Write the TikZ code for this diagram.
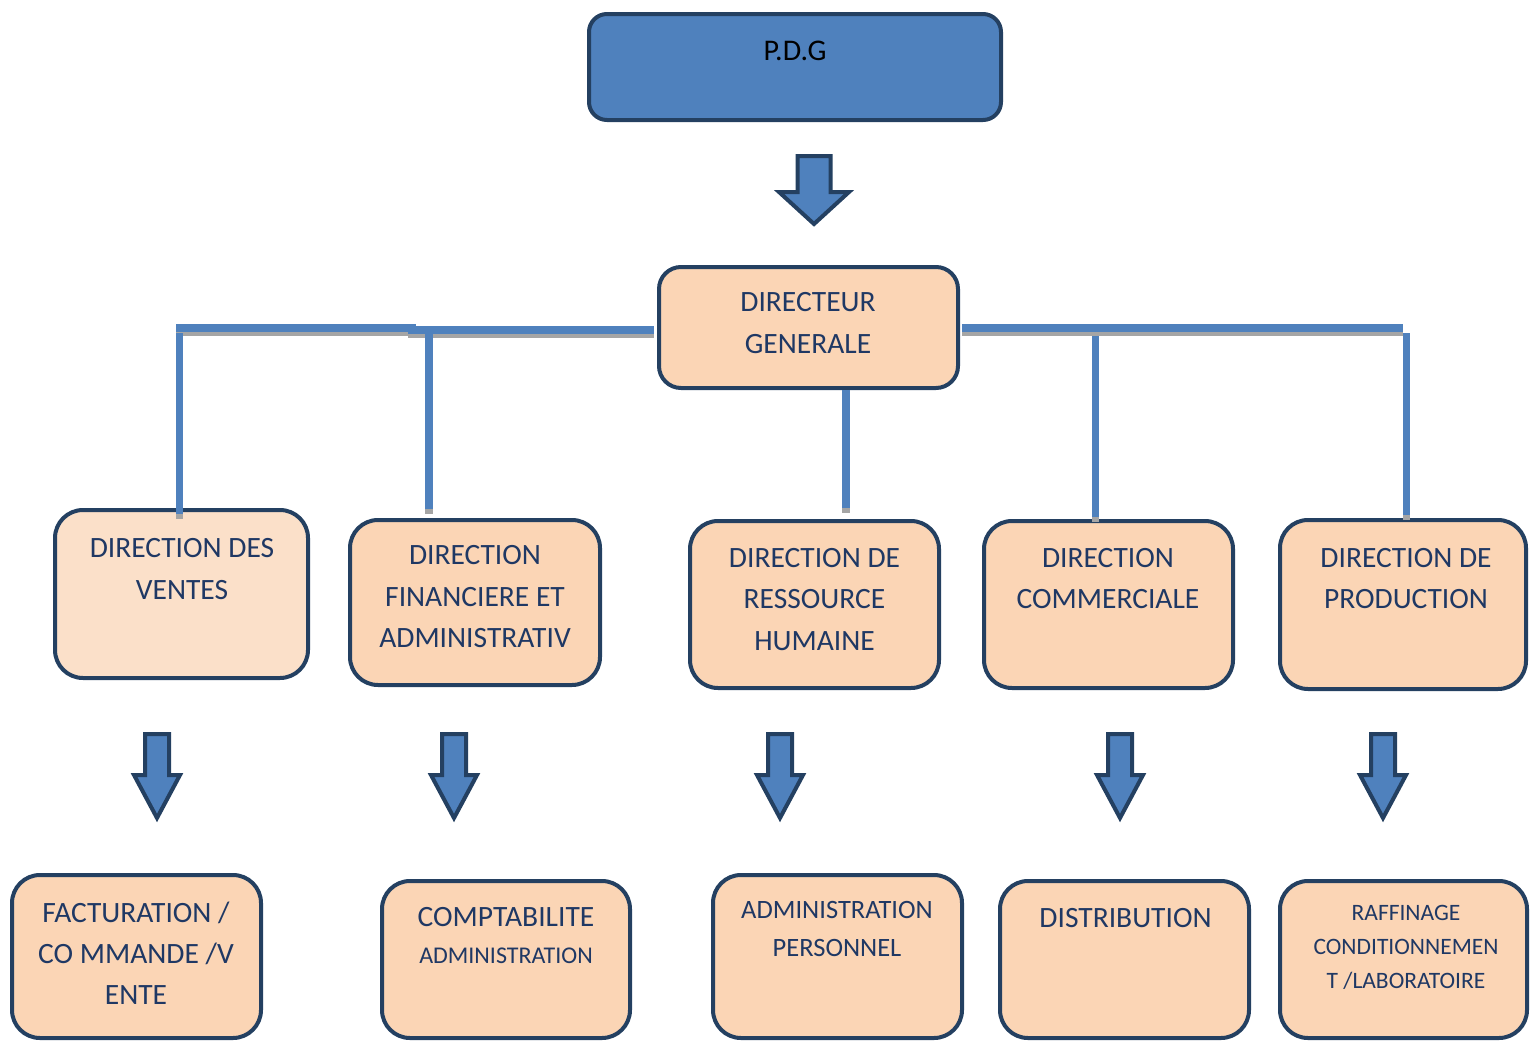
\documentclass[tikz,border=0pt]{standalone}
\usepackage{fontspec}
\setmainfont{Carlito}

\definecolor{pdgblue}{RGB}{79,129,189}
\definecolor{navy}{RGB}{36,64,97}
\definecolor{peach}{RGB}{251,213,181}
\definecolor{lightpeach}{RGB}{251,224,201}
\definecolor{txtnavy}{RGB}{31,56,100}
\definecolor{shadowgray}{RGB}{165,165,165}

\tikzset{
  unitbox/.style={draw=navy, line width=4pt, rounded corners=28pt, fill=peach, inner sep=0pt},
  boxtext/.style={text=txtnavy, align=center, inner sep=0pt, font=\fontsize{29.5}{41.5}\selectfont},
  blockarrow/.style={draw=navy, line width=4pt, fill=pdgblue, line join=miter},
  link/.style={draw=pdgblue, line width=7.5pt},
  linkshadow/.style={draw=shadowgray, line width=7.5pt},
}

% x, top, neck, tip, shaft half width, head half width
\newcommand{\bigarrow}[6]{%
  \draw[blockarrow] ({#1-#5},#2) -- ({#1+#5},#2) -- ({#1+#5},#3) -- ({#1+#6},#3)
    -- (#1,#4) -- ({#1-#6},#3) -- ({#1-#5},#3) -- cycle;}
\newcommand{\connect}[2]{%
  \draw[linkshadow] ([yshift=-4.5pt]#1) -- ([yshift=-4.5pt]#2);
  \draw[link] (#1) -- (#2);}

\begin{document}
\begin{tikzpicture}[x=1pt, y=-1pt]
    \useasboundingbox (0,0) rectangle (1531,1044);

    % top
    \node[unitbox, fill=pdgblue, rounded corners=18pt, minimum width=412pt, minimum height=106pt] (pdg) at (795,67) {};
    \node[boxtext, text=black, font=\fontsize{30}{34}\selectfont] (pdg-t) at (795,51) {P.D.G};
    \bigarrow{814}{156}{192}{224}{16.5}{35}

    \node[unitbox, rounded corners=22pt, minimum width=299pt, minimum height=121pt] (dg) at (808.5,327.5) {};
    \node[boxtext] (dg-t) at (808,323) {DIRECTEUR\\GENERALE};

    % directions
    \node[unitbox, fill=lightpeach, minimum width=253pt, minimum height=168pt] (ventes) at (181.5,594) {};
    \node[unitbox, minimum width=250pt, minimum height=165pt] (finance) at (475,602.5) {};
    \node[unitbox, minimum width=249pt, minimum height=167pt] (rh) at (814.5,604.5) {};
    \node[unitbox, minimum width=249pt, minimum height=167pt] (commerce) at (1108.5,604.5) {};
    \node[unitbox, minimum width=246pt, minimum height=169pt] (production) at (1403,604.5) {};

    \node[boxtext] (ventes-t) at (182,569) {DIRECTION DES\\VENTES};
    \node[boxtext] (finance-t) at (475,597) {DIRECTION\\FINANCIERE ET\\ADMINISTRATIV};
    \node[boxtext] (rh-t) at (814.5,599.5) {DIRECTION DE\\RESSOURCE\\HUMAINE};
    \node[boxtext] (commerce-t) at (1108,578.5) {DIRECTION\\COMMERCIALE};
    \node[boxtext] (production-t) at (1406,578.5) {DIRECTION DE\\PRODUCTION};

    % connectors
    \coordinate (bar-l) at (176,328);
    \coordinate (bar-lm) at (416,328);
    \coordinate (bar-m) at (408,330);
    \coordinate (bar-dg) at (654,330);
    \coordinate (bar-r) at (962,328);
    \coordinate (bar-rr) at (1403,328);
    \coordinate (v1-top) at (179.5,333);
    \coordinate (v1-bot) at (179.5,514);
    \coordinate (v2-top) at (429,334);
    \coordinate (v2-bot) at (429,509);
    \coordinate (v3-bot) at (846,508);
    \coordinate (v4-top) at (1095.5,336);
    \coordinate (v4-bot) at (1095.5,517);
    \coordinate (v5-top) at (1406.5,333);
    \coordinate (v5-bot) at (1406.5,515);

    \connect{bar-l}{bar-lm}
    \connect{bar-m}{bar-dg}
    \connect{bar-r}{bar-rr}
    \connect{v1-top}{v1-bot}
    \connect{v2-top}{v2-bot}
    \connect{dg.south -| v3-bot}{v3-bot}
    \connect{v4-top}{v4-bot}
    \connect{v5-top}{v5-bot}

    % arrows
    \bigarrow{157}{734}{775}{818}{12}{23}
    \bigarrow{454}{734}{775}{818}{12}{23}
    \bigarrow{780}{734}{775}{818}{12}{23}
    \bigarrow{1120}{734}{775}{818}{12}{23}
    \bigarrow{1383}{734}{775}{818}{12}{23}

    % services
    \node[unitbox, minimum width=249pt, minimum height=163pt] (factu) at (136.5,956.5) {};
    \node[unitbox, minimum width=248pt, minimum height=157pt] (compta) at (506,959.5) {};
    \node[unitbox, minimum width=249pt, minimum height=163pt] (admin) at (837.5,956.5) {};
    \node[unitbox, minimum width=249pt, minimum height=157pt] (distrib) at (1124.5,959.5) {};
    \node[unitbox, minimum width=247pt, minimum height=157pt] (raffin) at (1403.5,959.5) {};

    \node[boxtext, font=\fontsize{29.5}{41}\selectfont] (factu-t) at (136,953) {FACTURATION /\\CO MMANDE /V\\ENTE};
    \node[boxtext, font=\fontsize{29.5}{37}\selectfont] (compta-t) at (506,935.5) {COMPTABILITE\\{\fontsize{24}{37}\selectfont ADMINISTRATION}};
    \node[boxtext, font=\fontsize{26.5}{38}\selectfont] (admin-t) at (837,929) {ADMINISTRATION\\PERSONNEL};
    \node[boxtext] (distrib-t) at (1125.5,918) {DISTRIBUTION};
    \node[boxtext, font=\fontsize{23.5}{34}\selectfont] (raffin-t) at (1406,947) {RAFFINAGE\\CONDITIONNEMEN\\T /LABORATOIRE};
\end{tikzpicture}
\end{document}
